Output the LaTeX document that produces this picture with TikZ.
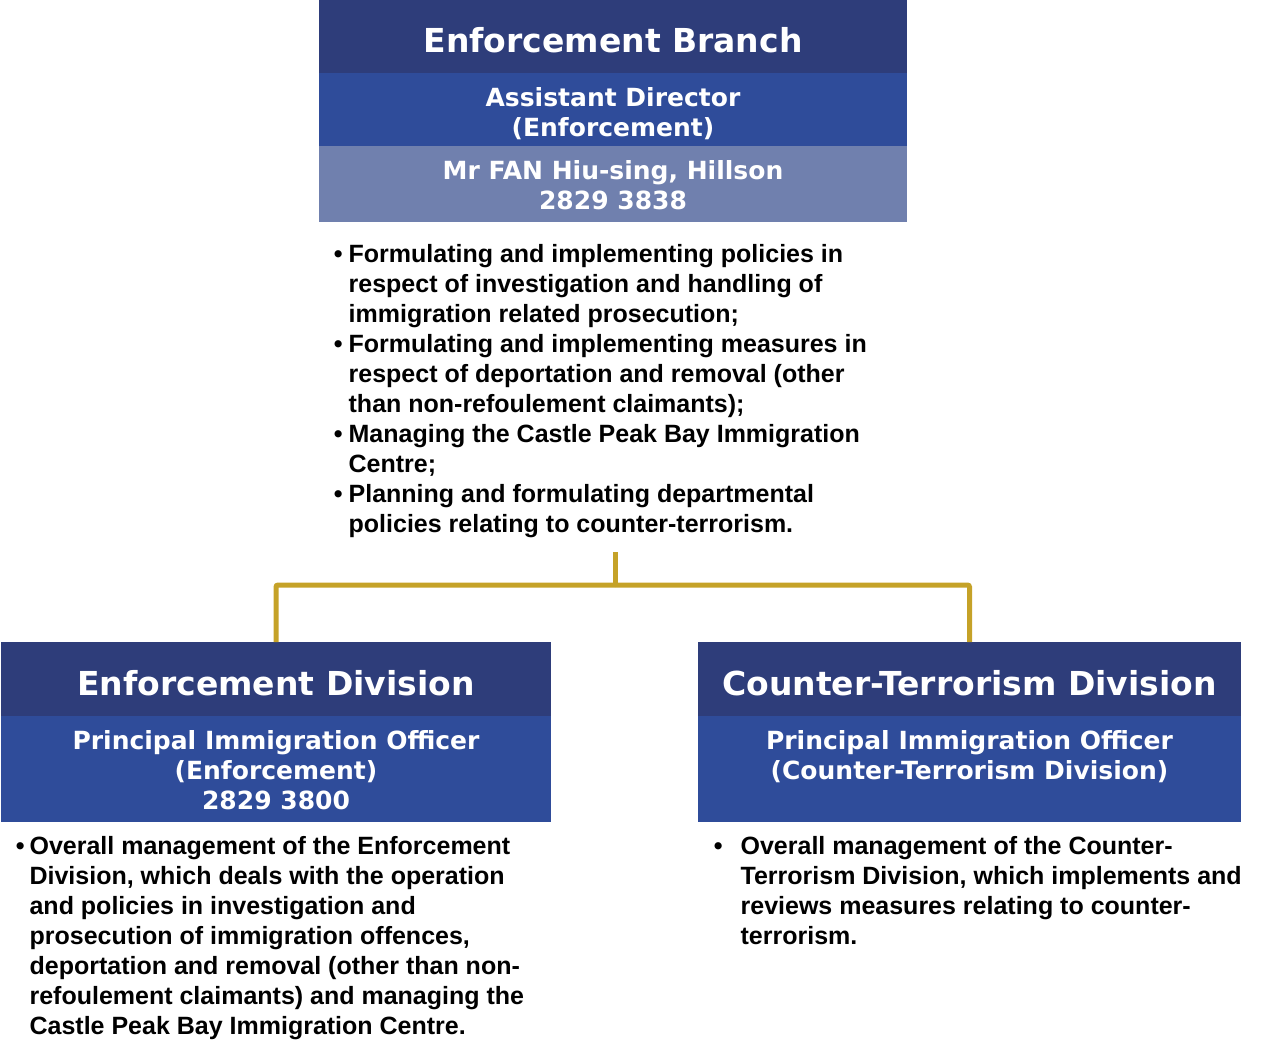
\documentclass[tikz,border=0pt]{standalone}
\usepackage{fontspec}
\setmainfont{Liberation Sans}
\newfontfamily\verd{DejaVu Sans}
\definecolor{hdark}{RGB}{46,61,122}
\definecolor{hmid}{RGB}{47,76,154}
\definecolor{hlight}{RGB}{112,128,174}
\definecolor{gold}{RGB}{197,162,40}
\newcommand{\bl}[1]{\makebox[#1][l]{\hspace{1.2pt}\textbullet}}
\begin{document}
\begin{tikzpicture}[x=0.75pt,y=-0.75pt,
  band/.style n args={3}{fill=#1, draw=none, inner sep=0pt, outer sep=0pt, anchor=north west,
    minimum width=#2*0.75pt, minimum height=#3*0.75pt},
  titletext/.style={text=white, inner sep=0pt, font=\verd\bfseries\fontsize{24.75}{30}\selectfont},
  subtext/.style={text=white, inner sep=0pt, align=center, font=\verd\bfseries\fontsize{18.75}{22.5}\selectfont},
  bodytext/.style={inner sep=0pt, anchor=north west, align=left, font=\bfseries\fontsize{18.75}{22.5}\selectfont},
  conn/.style={draw=gold, line width=3.75pt, rounded corners=1.5pt}
]
\useasboundingbox (0,0) rectangle (1265,1056);
% top box
\node[band={hdark}{588}{73}] (tb1) at (319,0) {};
\node[band={hmid}{588}{73}] (tb2) at (319,73) {};
\node[band={hlight}{588}{76}] (tb3) at (319,146) {};
\node[titletext] (tt1) at (613,40) {Enforcement Branch};
\node[subtext] (tt2) at (613,114) {Assistant Director\\(Enforcement)};
\node[subtext] (tt3) at (613,185) {Mr FAN Hiu-sing, Hillson\\2829 3838};
\node[bodytext] (tlist) at (332,244) {%
\bl{12.3pt}Formulating and implementing policies in\\
\hspace*{12.3pt}respect of investigation and handling of\\
\hspace*{12.3pt}immigration related prosecution;\\
\bl{12.3pt}Formulating and implementing measures in\\
\hspace*{12.3pt}respect of deportation and removal (other\\
\hspace*{12.3pt}than non-refoulement claimants);\\
\bl{12.3pt}Managing the Castle Peak Bay Immigration\\
\hspace*{12.3pt}Centre;\\
\bl{12.3pt}Planning and formulating departmental\\
\hspace*{12.3pt}policies relating to counter-terrorism.};
% left box
\node[band={hdark}{550}{74}] (lb1) at (1,642) {};
\node[band={hmid}{550}{106}] (lb2) at (1,716) {};
\node[titletext] (lt1) at (276,683) {Enforcement Division};
\node[subtext] (lt2) at (276,770) {Principal Immigration Officer\\(Enforcement)\\2829 3800};
\node[bodytext] (llist) at (14,836) {%
\bl{11.5pt}Overall management of the Enforcement\\
\hspace*{11.5pt}Division, which deals with the operation\\
\hspace*{11.5pt}and policies in investigation and\\
\hspace*{11.5pt}prosecution of immigration offences,\\
\hspace*{11.5pt}deportation and removal (other than non-\\
\hspace*{11.5pt}refoulement claimants) and managing the\\
\hspace*{11.5pt}Castle Peak Bay Immigration Centre.};
% right box
\node[band={hmid}{543}{180}] (rb2) at (698,642) {};
\node[band={hdark}{543}{74}] (rb1) at (698,642) {};
\node[titletext] (rt1) at (969.5,683) {Counter-Terrorism Division};
\node[subtext] (rt2) at (969.5,757) {Principal Immigration Officer\\(Counter-Terrorism Division)};
\node[bodytext] (rlist) at (712,836) {%
\bl{21.3pt}Overall management of the Counter-\\
\hspace*{21.3pt}Terrorism Division, which implements and\\
\hspace*{21.3pt}reviews measures relating to counter-\\
\hspace*{21.3pt}terrorism.};
% connectors
\coordinate (c0) at (615,552);
\coordinate (c1) at (615,585);
\draw[conn] (c0) -- (c1);
\draw[conn] (c1) -| (lb1.north);
\draw[conn] (c1) -| (rb1.north);
\end{tikzpicture}
\end{document}
